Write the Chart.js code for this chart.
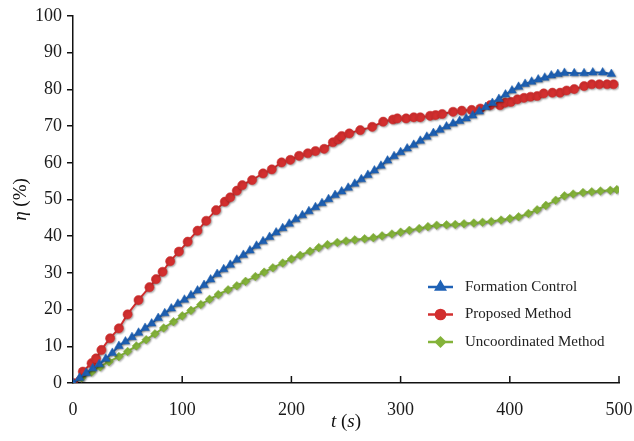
<!DOCTYPE html>
<html>
<head>
<meta charset="utf-8">
<script src="https://cdn.jsdelivr.net/npm/chart.js@4/dist/chart.umd.min.js"></script>
<style>
  html, body { margin: 0; padding: 0; background: #fff; }
  #wrap { width: 634px; height: 441px; }
</style>
</head>
<body>
<div id="wrap"><canvas id="eta-chart" width="634" height="441"></canvas></div>
<script>
// series names
var seriesNames = ["Formation Control", "Proposed Method", "Uncoordinated Method"];

// Formation Control (blue triangles)
var blueT = [0,6,12,18,24,30,36,42,48,54,60,66,72,78,84,90,96,102,108,114,120,126,132,138,144,150,156,162,168,174,180,186,192,198,204,210,216,222,228,234,240,246,252,258,264,270,276,282,288,294,300,306,312,318,324,330,336,342,348,354,360,366,372,378,384,390,396,402,408,414,420,426,432,438,444,450,459,468,476,485,493];
var blueY = [0,1.4,2.7,4.0,5.1,6.6,8.2,10.1,11.3,12.5,13.7,15.0,16.2,17.7,19.0,20.3,21.6,22.7,23.9,25.2,26.7,28.2,29.7,31.0,32.2,33.6,34.9,36.1,37.4,38.6,39.8,41.0,42.2,43.4,44.6,45.7,46.8,47.9,49.0,50.1,51.2,52.2,53.2,54.3,55.5,56.7,57.9,59.2,60.6,61.8,62.9,63.9,64.9,66.0,67.1,68.1,69.0,69.9,70.7,71.4,72.1,72.9,74.0,75.2,76.3,77.4,78.6,79.7,80.7,81.5,82.1,82.7,83.2,83.8,84.2,84.5,84.4,84.4,84.6,84.6,84.2];

// Proposed Method (red circles)
var redT = [0,9,17,21,26,34,42,50,60,70,76,82,89,97,105,114,122,131,139,144,150,155,164,174,182,191,199,207,215,222,230,238,243,246,253,263,274,284,293,297,305,312,318,327,332,338,348,356,365,373,382,391,396,401,407,413,419,425,431,439,446,452,459,468,475,482,489,495];
var redY = [0,3.1,5.4,6.7,9.0,12.2,14.9,18.7,22.6,26.1,28.3,30.3,33.2,35.8,38.5,41.5,44.2,47.1,49.4,50.6,52.4,53.9,55.3,57.1,58.2,60.1,60.8,61.9,62.6,63.2,63.8,65.6,66.4,67.3,68.0,68.9,69.8,71.2,71.8,72.1,72.1,72.4,72.4,72.8,73.0,73.3,73.9,74.2,74.4,74.8,75.7,75.7,76.4,76.6,77.3,77.7,78.0,78.2,78.9,79.1,79.1,79.7,80.1,80.9,81.4,81.4,81.4,81.4];

// Uncoordinated Method (green diamonds)
var greenT = [0,8,17,25,33,42,50,58,67,75,83,92,100,108,117,125,133,142,150,158,167,175,183,192,200,208,217,225,233,242,250,258,267,275,283,292,300,308,317,325,333,342,350,358,367,375,383,392,400,408,417,425,433,442,450,458,467,475,483,492,498];
var greenY = [0,1.4,3.0,4.4,5.8,7.2,8.6,10.1,11.8,13.4,15.0,16.7,18.3,19.8,21.4,22.8,24.1,25.4,26.5,27.7,29.0,30.2,31.4,32.7,33.8,34.8,35.9,36.9,37.7,38.3,38.7,39.0,39.3,39.6,40.1,40.6,41.1,41.6,42.1,42.6,43.0,43.1,43.2,43.4,43.6,43.8,44.0,44.4,44.8,45.3,46.2,47.2,48.4,49.8,51.0,51.5,51.9,52.1,52.3,52.5,52.7];

var xTicks = [0, 100, 200, 300, 400, 500];

function pts(t, y) {
  return t.map(function (v, i) { return { x: v, y: y[i] }; });
}

var serif = "'Liberation Serif', 'Times New Roman', serif";
var styles = [
  { color: "#1f62b6", pointStyle: "triangle", radius: 5 },
  { color: "#d22f2f", pointStyle: "circle", radius: 4.6 },
  { color: "#84b33a", pointStyle: "rectRot", radius: 4.3 }
];

// marker shadow like the original figure
var shadowPlugin = {
  id: "shadow",
  beforeDatasetsDraw: function (chart) {
    var ctx = chart.ctx;
    ctx.save();
    ctx.shadowColor = "rgba(0,0,0,0.35)";
    ctx.shadowBlur = 2;
    ctx.shadowOffsetX = 1;
    ctx.shadowOffsetY = 1;
  },
  afterDatasetsDraw: function (chart) {
    chart.ctx.restore();
  }
};

function drawRuns(ctx, runs, x, y) {
  // measure total then draw centered
  var total = 0;
  runs.forEach(function (r) { ctx.font = r.font; total += ctx.measureText(r.text).width; });
  var cx = x - total / 2;
  runs.forEach(function (r) {
    ctx.font = r.font;
    ctx.fillText(r.text, cx, y);
    cx += ctx.measureText(r.text).width;
  });
}

var extrasPlugin = {
  id: "extras",
  afterDraw: function (chart) {
    var ctx = chart.ctx;
    var xs = chart.scales.x;
    var area = chart.chartArea;
    ctx.save();
    // inward x ticks
    ctx.strokeStyle = "#111";
    ctx.lineWidth = 1.5;
    xTicks.forEach(function (v) {
      if (v === 0) return;
      var px = xs.getPixelForValue(v);
      ctx.beginPath();
      ctx.moveTo(px, area.bottom);
      ctx.lineTo(px, area.bottom - 7);
      ctx.stroke();
    });

    // axis titles
    ctx.fillStyle = "#111";
    ctx.textBaseline = "middle";
    ctx.textAlign = "left";
    var it = "italic 19px " + serif, up = "19px " + serif;
    drawRuns(ctx, [
      { text: "t", font: it }, { text: " (", font: up },
      { text: "s", font: it }, { text: ")", font: up }
    ], (area.left + area.right) / 2, 422);

    ctx.save();
    ctx.translate(21, (area.top + area.bottom) / 2);
    ctx.rotate(-Math.PI / 2);
    drawRuns(ctx, [
      { text: "\u03b7", font: it }, { text: " (%)", font: up }
    ], 0, 0);
    ctx.restore();

    // legend
    var lx = 428, tx = 465, ly = 287;
    chart.data.datasets.forEach(function (ds, i) {
      var y = ly + i * 27.5;
      ctx.strokeStyle = ds.borderColor;
      ctx.lineWidth = 2.5;
      ctx.beginPath();
      ctx.moveTo(lx, y);
      ctx.lineTo(lx + 25, y);
      ctx.stroke();
      Chart.helpers.drawPoint(ctx, {
        pointStyle: ds.pointStyle, radius: ds.pointRadius, rotation: 0,
        borderWidth: 1
      }, lx + 12.5, y);
      ctx.fillStyle = ds.backgroundColor;
      ctx.strokeStyle = ds.borderColor;
      ctx.fill();
      ctx.fillStyle = "#222";
      ctx.font = "15px " + serif;
      ctx.textAlign = "left";
      ctx.fillText(ds.label, tx, y);
    });
    ctx.restore();
  }
};

new Chart(document.getElementById("eta-chart"), {
  type: "line",
  data: {
    datasets: [pts(blueT, blueY), pts(redT, redY), pts(greenT, greenY)].map(function (d, i) {
      return {
        label: seriesNames[i],
        data: d,
        borderColor: styles[i].color,
        backgroundColor: styles[i].color,
        borderWidth: 2,
        pointStyle: styles[i].pointStyle,
        pointRadius: styles[i].radius,
        pointBorderWidth: 0.5,
        tension: 0.3
      };
    })
  },
  options: {
    responsive: false,
    animation: false,
    devicePixelRatio: 1,
    layout: { padding: { top: 16, right: 15, left: 0, bottom: 0 } },
    plugins: {
      legend: { display: false },
      tooltip: { enabled: false }
    },
    scales: {
      x: {
        type: "linear",
        min: 0,
        max: 500,
        afterFit: function (s) { s.height = 58; s.paddingLeft = 0; s.paddingRight = 0; },
        afterBuildTicks: function (s) { s.ticks = xTicks.map(function (v) { return { value: v }; }); },
        grid: { display: true, drawOnChartArea: false, drawTicks: false },
        border: { display: true, color: "#111", width: 1.5 },
        ticks: { color: "#1a1a1a", font: { family: serif, size: 18 }, padding: 16, maxRotation: 0 }
      },
      y: {
        min: 0,
        max: 100,
        afterFit: function (s) { s.width = 73; s.paddingTop = 0; s.paddingBottom = 0; },
        grid: { display: true, drawOnChartArea: false, drawTicks: true, tickLength: 6, color: "#111", lineWidth: 1.5 },
        border: { display: true, color: "#111", width: 1.5 },
        ticks: { stepSize: 10, color: "#1a1a1a", font: { family: serif, size: 18 }, padding: 5 }
      }
    }
  },
  plugins: [shadowPlugin, extrasPlugin]
});
</script>
</body>
</html>
